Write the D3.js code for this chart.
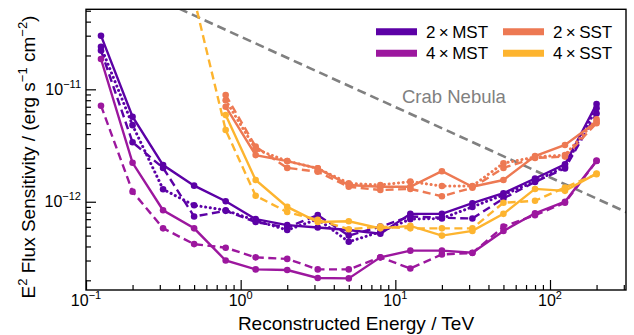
<!DOCTYPE html>
<html><head><meta charset="utf-8">
<script src="https://cdn.jsdelivr.net/npm/d3@7"></script>
<style>
body{margin:0;background:#fff}
svg{display:block}
text{font-family:"Liberation Sans",Arial,Helvetica,sans-serif}
</style>
</head><body>
<svg id="chart" width="634" height="335"></svg>
<script>
// ---- data (flux values in units of 1e-12 erg s^-1 cm^-2) ----
const UNIT = 1e-12;
const energies = [0.125, 0.2, 0.315, 0.5, 0.8, 1.25, 2, 3.15, 5, 8, 12.5, 20, 31.5, 50, 80, 125, 200];

const mst2Solid  = [30.0, 5.7, 2.12, 1.39, 1.01, 0.70, 0.62, 0.59, 0.56, 0.52, 0.78, 0.78, 0.97, 1.19, 1.61, 2.15, 7.4];
const mst2Dashed = [22.1, 3.38, 2.0, 0.74, 0.83, 0.66, 0.59, 0.76, 0.50, 0.60, 0.74, 0.72, 0.71, 1.07, 1.50, 1.98, 6.1];
const mst2Dotted = [23.9, 4.8, 1.29, 0.93, 0.84, 0.68, 0.56, 0.70, 0.44, 0.54, 0.70, 0.71, 0.90, 1.15, 1.52, 2.05, 6.8];

const mst4Solid  = [18.6, 2.22, 0.84, 0.58, 0.30, 0.25, 0.247, 0.21, 0.208, 0.32, 0.367, 0.367, 0.352, 0.55, 0.79, 1.0, 2.32];
const mst4Dashed = [7.15, 1.23, 0.58, 0.42, 0.39, 0.32, 0.31, 0.25, 0.25, 0.32, 0.255, 0.34, 0.35, 0.60, 0.76, 0.98, 2.3];

const sst2Solid  = [null, null, null, null, 7.0, 2.6, 2.3, 1.98, 1.41, 1.36, 1.36, 1.87, 1.36, 1.56, 2.55, 3.2, 5.15];
const sst2Dashed = [null, null, null, null, 8.9, 3.09, 2.0, 1.85, 1.36, 1.27, 1.30, 1.12, 1.33, 2.0, 2.45, 2.52, 5.0];
const sst2Dotted = [null, null, null, null, 8.0, 2.93, 2.3, 1.98, 1.46, 1.41, 1.51, 1.38, 1.38, 2.2, 2.5, 2.6, 5.4];

const sst4Solid  = [null, null, null, null, 5.9, 1.56, 0.90, 0.66, 0.67, 0.58, 0.61, 0.50, 0.55, 0.78, 1.30, 1.25, 1.78];
const sst4Dashed = [null, null, null, 64, 4.34, 1.13, 0.81, 0.69, 0.57, 0.60, 0.58, 0.58, 0.58, 0.98, 1.02, 1.34, 1.76];

const crabEnergy = [0.4, 320];
const crabFlux   = [52.2, 0.795];

const legendNames  = ["2\u2009\u00d7\u2009MST", "4\u2009\u00d7\u2009MST", "2\u2009\u00d7\u2009SST", "4\u2009\u00d7\u2009SST"];
const legendColors = ["#5c01a6", "#9c179e", "#ed7953", "#fdb42f"];

const xTickValues = [0.1, 1, 10, 100];
const xTickExps   = ["\u22121", "0", "1", "2"];
const yTickValues = [1e-12, 1e-11];
const yTickExps   = ["\u221212", "\u221211"];

// ---- layout ----
const svg = d3.select("#chart");
const m = {l: 86, r: 626, t: 9.3, b: 290};
const x = d3.scaleLog().domain([0.1, 310]).range([m.l, m.r]);
const y = d3.scaleLog().domain([1.64e-13, 5.15e-11]).range([m.b, m.t]);

svg.append("defs").append("clipPath").attr("id", "clip")
  .append("rect").attr("x", m.l).attr("y", m.t).attr("width", m.r - m.l).attr("height", m.b - m.t);

// ticks
const xMinor = [];
for (let d = -1; d <= 2; d++) for (let k = 2; k <= 9; k++) { const v = k * Math.pow(10, d); if (v <= 310) xMinor.push(v); }
const yMinor = [];
for (let d = -13; d <= -11; d++) for (let k = 2; k <= 9; k++) { const v = k * Math.pow(10, d); if (v >= 1.64e-13 && v <= 5.15e-11) yMinor.push(v); }

function styleAxis(g) {
  g.select(".domain").remove();
  g.selectAll("line").attr("stroke", "#000").attr("stroke-width", 1.2);
}
svg.append("g").attr("transform", `translate(0,${m.b})`)
  .call(d3.axisBottom(x).tickValues(xTickValues).tickSize(-10).tickFormat("")).call(styleAxis);
svg.append("g").attr("transform", `translate(0,${m.b})`)
  .call(d3.axisBottom(x).tickValues(xMinor).tickSize(-5).tickFormat("")).call(styleAxis);
svg.append("g").attr("transform", `translate(${m.l},0)`)
  .call(d3.axisLeft(y).tickValues(yTickValues).tickSize(-10).tickFormat("")).call(styleAxis);
svg.append("g").attr("transform", `translate(${m.l},0)`)
  .call(d3.axisLeft(y).tickValues(yMinor).tickSize(-5).tickFormat("")).call(styleAxis);

// tick labels
xTickValues.forEach((v, i) => {
  const t = svg.append("text").attr("x", x(v)).attr("y", 306).attr("text-anchor", "middle")
    .attr("font-size", 16).attr("fill", "#000");
  t.append("tspan").text("10");
  t.append("tspan").attr("dy", -7).attr("font-size", 11).text(xTickExps[i]);
});
yTickValues.forEach((v, i) => {
  const t = svg.append("text").attr("x", 81).attr("y", y(v) + 5.5).attr("text-anchor", "end")
    .attr("font-size", 16).attr("fill", "#000");
  t.append("tspan").text("10");
  t.append("tspan").attr("dy", -7).attr("font-size", 11).text(yTickExps[i]);
});

// axis titles
svg.append("text").attr("x", (m.l + m.r) / 2).attr("y", 330).attr("text-anchor", "middle")
  .attr("font-size", 19).text("Reconstructed Energy / TeV");
const yl = svg.append("text").attr("transform", "translate(35,157) rotate(-90)")
  .attr("text-anchor", "middle").attr("font-size", 19);
yl.append("tspan").text("E");
yl.append("tspan").attr("dy", -8).attr("font-size", 13).text("2");
yl.append("tspan").attr("dy", 8).text(" Flux Sensitivity / (erg s");
yl.append("tspan").attr("dy", -8).attr("font-size", 13).text("\u22121");
yl.append("tspan").attr("dy", 8).text(" cm");
yl.append("tspan").attr("dy", -8).attr("font-size", 13).text("\u22122");
yl.append("tspan").attr("dy", 8).text(")");

// plot content
const plot = svg.append("g").attr("clip-path", "url(#clip)");

// Crab Nebula reference
const crabLine = d3.line().x(d => x(d[0])).y(d => y(d[1] * UNIT));
plot.append("path").datum(crabEnergy.map((e, i) => [e, crabFlux[i]]))
  .attr("d", crabLine).attr("fill", "none").attr("stroke", "#808080")
  .attr("stroke-width", 2.6).attr("stroke-dasharray", "9,5");

const dash = {solid: null, dashed: "8,4.5", dotted: "0.1,4.6"};
const series = [
  {color: legendColors[0], style: "solid", values: mst2Solid},
  {color: legendColors[0], style: "dashed", values: mst2Dashed},
  {color: legendColors[0], style: "dotted", values: mst2Dotted},
  {color: legendColors[1], style: "solid", values: mst4Solid},
  {color: legendColors[1], style: "dashed", values: mst4Dashed},
  {color: legendColors[2], style: "solid", values: sst2Solid},
  {color: legendColors[2], style: "dashed", values: sst2Dashed},
  {color: legendColors[2], style: "dotted", values: sst2Dotted},
  {color: legendColors[3], style: "solid", values: sst4Solid},
  {color: legendColors[3], style: "dashed", values: sst4Dashed}
];
const line = d3.line().defined(d => d[1] != null).x(d => x(d[0])).y(d => y(d[1] * UNIT));
series.forEach(s => {
  const pts = energies.map((e, i) => [e, s.values[i]]);
  plot.append("path").datum(pts).attr("d", line).attr("fill", "none")
    .attr("stroke", s.color).attr("stroke-width", s.style === "dotted" ? 3 : 2.4)
    .attr("stroke-linecap", s.style === "dotted" ? "round" : "butt")
    .attr("stroke-dasharray", dash[s.style]);
  plot.selectAll(null).data(pts.filter(d => d[1] != null)).enter().append("circle")
    .attr("cx", d => x(d[0])).attr("cy", d => y(d[1] * UNIT)).attr("r", 3.3)
    .attr("fill", s.color);
});

// Crab label
svg.append("text").attr("x", 402).attr("y", 103).attr("font-size", 18.5)
  .attr("fill", "#808080").text("Crab Nebula");

// frame
svg.append("rect").attr("x", m.l).attr("y", m.t).attr("width", m.r - m.l).attr("height", m.b - m.t)
  .attr("fill", "none").attr("stroke", "#000").attr("stroke-width", 1.4);

// legend
const legPos = [[376, 31.7], [376, 53.3], [503, 31.7], [503, 53.3]];
legendNames.forEach((n, i) => {
  const [lx, ly] = legPos[i];
  svg.append("line").attr("x1", lx).attr("x2", lx + 41).attr("y1", ly).attr("y2", ly)
    .attr("stroke", legendColors[i]).attr("stroke-width", 7);
  svg.append("text").attr("x", lx + 50).attr("y", ly + 6).attr("font-size", 17).text(n);
});
</script>
</body></html>
